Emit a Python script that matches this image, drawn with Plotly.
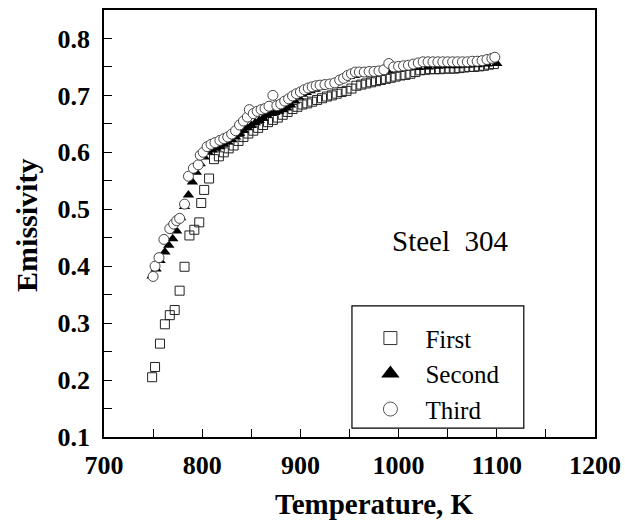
import plotly.graph_objects as go

# First (open squares)
first_T = [749, 752, 757, 762, 767, 772, 777, 782, 787, 792, 797, 799, 802, 807,
           812, 817, 822, 827, 832, 837, 842, 847, 852, 857, 862, 867, 872, 877,
           882, 887, 892, 897, 902, 907, 912, 917, 922, 927, 932, 937, 942, 947,
           952, 957, 962, 967, 972, 977, 982, 987, 992, 997, 1002, 1007, 1012,
           1017, 1022, 1027, 1032, 1037, 1042, 1047, 1052, 1057, 1062, 1067, 1072,
           1077, 1082, 1087, 1092, 1097]
first_E = [0.205, 0.223, 0.264, 0.298, 0.314, 0.323, 0.357, 0.399, 0.454, 0.464, 0.477, 0.511, 0.534, 0.554,
           0.588, 0.593, 0.600, 0.607, 0.612, 0.620, 0.627, 0.633, 0.638, 0.643, 0.648, 0.653, 0.657, 0.661,
           0.666, 0.671, 0.676, 0.680, 0.684, 0.686, 0.689, 0.692, 0.695, 0.698, 0.700, 0.703, 0.706, 0.708,
           0.712, 0.717, 0.719, 0.721, 0.723, 0.725, 0.727, 0.729, 0.731, 0.733, 0.735, 0.736, 0.738,
           0.741, 0.744, 0.745, 0.746, 0.746, 0.746, 0.747, 0.747, 0.747, 0.748, 0.749, 0.750,
           0.750, 0.751, 0.752, 0.754, 0.755]

# Second (filled triangles)
second_T = [749, 753, 757, 762, 766, 770, 774, 778, 782, 786, 790, 794, 798, 802, 806, 810,
            814, 818, 822, 826, 830, 834, 838, 842, 846, 850, 854, 858, 862, 866, 870, 874,
            878, 882, 886, 890, 894, 898, 902, 906, 910, 915, 920, 925, 930, 935, 940, 945,
            950, 955, 960, 965, 970, 975, 980, 985, 990, 995, 1000, 1010, 1020, 1030, 1040,
            1050, 1060, 1070, 1080, 1090, 1100]
second_E = [0.383, 0.395, 0.410, 0.425, 0.437, 0.448, 0.462, 0.485, 0.505, 0.525, 0.548, 0.565, 0.580, 0.592, 0.600, 0.604,
            0.607, 0.610, 0.614, 0.618, 0.622, 0.627, 0.633, 0.639, 0.643, 0.647, 0.652, 0.656, 0.660, 0.665, 0.668, 0.670,
            0.672, 0.675, 0.678, 0.683, 0.690, 0.697, 0.702, 0.705, 0.708, 0.711, 0.714, 0.716, 0.719, 0.722, 0.726, 0.729,
            0.733, 0.735, 0.737, 0.738, 0.740, 0.741, 0.742, 0.743, 0.744, 0.745, 0.746, 0.748, 0.749, 0.750, 0.751,
            0.752, 0.752, 0.753, 0.754, 0.755, 0.756]

# Third (open circles)
third_T = [750, 752, 756, 761, 767, 771, 774, 777, 782, 786, 791, 796, 798, 801, 805, 809, 813, 818,
           822, 826, 830, 834, 838, 842, 846, 848, 852, 856, 860, 864, 868, 872, 876, 880, 884, 888,
           892, 896, 900, 904, 908, 912, 916, 920, 925, 930, 935, 940, 944, 948, 952, 956, 960, 965,
           970, 975, 980, 985, 990, 995, 1000, 1005, 1010, 1015, 1020, 1025, 1030, 1035, 1040, 1045,
           1050, 1055, 1060, 1065, 1070, 1075, 1080, 1085, 1090, 1095, 1098]
third_E = [0.382, 0.400, 0.415, 0.447, 0.466, 0.474, 0.480, 0.484, 0.509, 0.558, 0.572, 0.578, 0.595, 0.600, 0.610, 0.614, 0.617, 0.621,
           0.624, 0.627, 0.632, 0.638, 0.648, 0.655, 0.662, 0.675, 0.668, 0.672, 0.675, 0.677, 0.681, 0.700, 0.682, 0.685, 0.690, 0.694,
           0.699, 0.703, 0.706, 0.710, 0.713, 0.715, 0.717, 0.718, 0.719, 0.720, 0.722, 0.727, 0.730, 0.735, 0.738, 0.741, 0.741, 0.741,
           0.742, 0.742, 0.743, 0.745, 0.756, 0.750, 0.751, 0.752, 0.753, 0.755, 0.757, 0.759, 0.759, 0.759, 0.759, 0.759,
           0.759, 0.759, 0.759, 0.759, 0.759, 0.760, 0.760, 0.761, 0.763, 0.765, 0.767]

series_names = ["First", "Second", "Third"]

FONT = "Liberation Serif, Times New Roman, Times, serif"
fig = go.Figure()

fig.add_trace(go.Scatter(x=first_T, y=first_E, mode="markers", showlegend=False,
                         marker=dict(symbol="square-open", size=9, color="#222",
                                     line=dict(width=1, color="#222"))))
fig.add_trace(go.Scatter(x=second_T, y=second_E, mode="markers", showlegend=False,
                         marker=dict(symbol="triangle-up", size=10, color="black",
                                     line=dict(width=0))))
fig.add_trace(go.Scatter(x=third_T, y=third_E, mode="markers", showlegend=False,
                         marker=dict(symbol="circle", size=10, color="white",
                                     line=dict(width=1, color="#444"))))

# legend entries
fig.add_trace(go.Scatter(x=[None], y=[None], mode="markers", name=series_names[0],
                         marker=dict(symbol="square-open", size=13, color="#333",
                                     line=dict(width=1, color="#333"))))
fig.add_trace(go.Scatter(x=[None], y=[None], mode="markers", name=series_names[1],
                         marker=dict(symbol="triangle-up", size=16, color="black")))
fig.add_trace(go.Scatter(x=[None], y=[None], mode="markers", name=series_names[2],
                         marker=dict(symbol="circle", size=14, color="white",
                                     line=dict(width=1, color="#555"))))

fig.add_annotation(x=991, y=0.445, xref="x", yref="y", text="Steel\u00a0\u00a0304",
                   showarrow=False, xanchor="left", yanchor="middle",
                   font=dict(family=FONT, size=29, color="black"))

# axis titles
fig.add_annotation(x=0.551, y=-0.158, xref="paper", yref="paper", text="Temperature, K",
                   showarrow=False, xanchor="center", yanchor="middle",
                   font=dict(family=FONT, size=29, color="black", weight="bold"))
fig.add_annotation(x=-0.157, y=0.4965, xref="paper", yref="paper", text="Emissivity",
                   showarrow=False, xanchor="center", yanchor="middle", textangle=-90,
                   font=dict(family=FONT, size=30, color="black", weight="bold"))

# legend frame
fig.add_shape(type="rect", xref="paper", yref="paper", x0=0.505, x1=0.855, y0=0.021, y1=0.307,
              line=dict(color="black", width=1.2), layer="above")

axis_common = dict(showline=True, linecolor="black", linewidth=1.5, mirror=True,
                   ticks="inside", ticklen=8, tickwidth=1.2, tickcolor="black",
                   showgrid=False, zeroline=False, automargin=False,
                   tickfont=dict(family=FONT, size=26, color="black", weight="bold"))

fig.update_layout(
    width=625, height=523,
    margin=dict(l=104, r=30, t=10, b=86),
    paper_bgcolor="white", plot_bgcolor="white",
    font=dict(family=FONT),
    xaxis=dict(range=[700, 1200], dtick=100, tick0=700,
               minor=dict(dtick=50, ticks="inside", ticklen=8, tickcolor="black", tickwidth=1.2),
               ticklabelstandoff=4,
               **axis_common),
    yaxis=dict(range=[0.1, 0.85], dtick=0.1, tick0=0.1, tickformat=".1f",
               minor=dict(dtick=0.05, ticks="inside", ticklen=8, tickcolor="black", tickwidth=1.2),
               ticklabelstandoff=7,
               **axis_common),
    legend=dict(x=0.512, y=0.148, xanchor="left", yanchor="middle",
                borderwidth=0, bgcolor="rgba(0,0,0,0)",
                font=dict(family=FONT, size=25, color="black"),
                itemwidth=60, tracegroupgap=0),
)

fig.write_html("out.html", config={"displayModeBar": False},
               post_script="document.body.style.margin='0';document.body.style.overflow='hidden';")
